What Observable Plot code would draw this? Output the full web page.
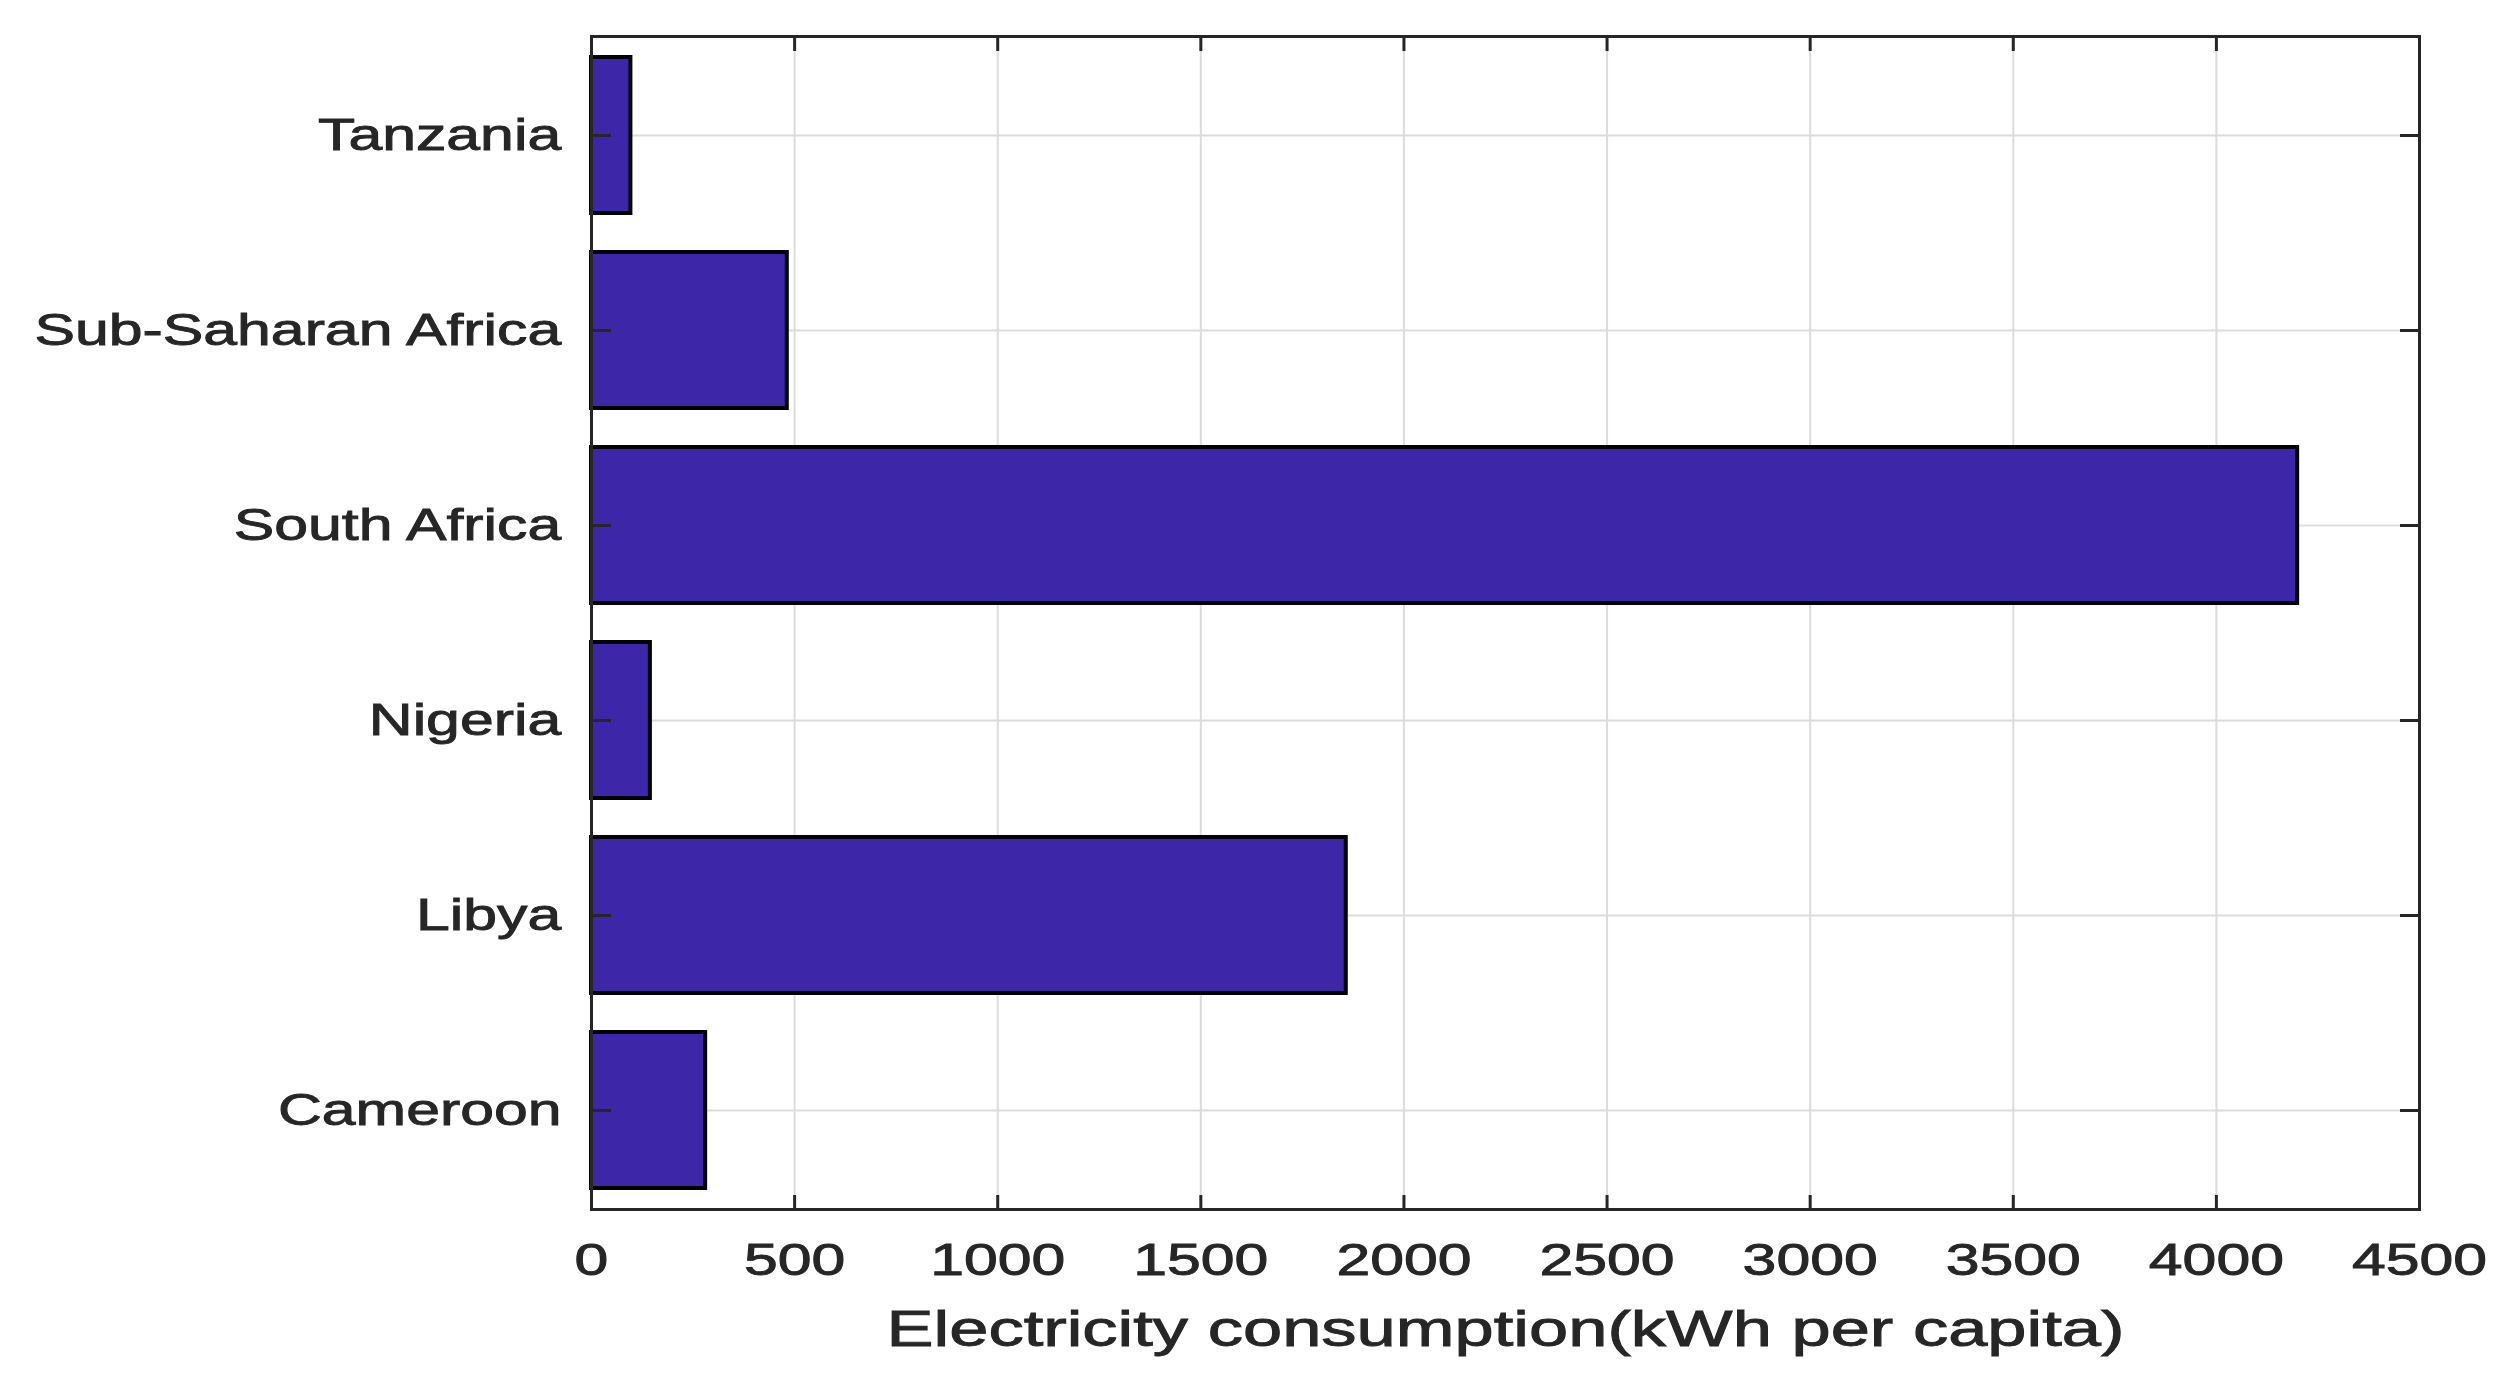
<!DOCTYPE html>
<html>
<head>
<meta charset="utf-8">
<script src="https://cdn.jsdelivr.net/npm/d3@7"></script>
<script src="https://cdn.jsdelivr.net/npm/@observablehq/plot@0.6"></script>
<style>
  html, body { margin: 0; padding: 0; background: #fff; }
  svg { display: block; }
</style>
</head>
<body>
<div id="chart"></div>
<script>
const countries = ["Tanzania", "Sub-Saharan Africa", "South Africa", "Nigeria", "Libya", "Cameroon"];
const consumption = [97, 482, 4200, 145, 1858, 281];
const xTicks = [0, 500, 1000, 1500, 2000, 2500, 3000, 3500, 4000, 4500];
const xLabel = "Electricity consumption(kWh per capita)";

const data = countries.map((c, i) => ({country: c, value: consumption[i]}));

const W = 2506, H = 1381;
const ink = "#262626";
const font = "'Liberation Sans', Arial, Helvetica, sans-serif";

const svg = Plot.plot({
  width: W,
  height: H,
  marginLeft: 591,
  marginRight: 87,
  marginTop: 36,
  marginBottom: 172,
  style: {fontFamily: font, color: ink, background: "#fff"},
  x: {domain: [0, 4500], ticks: xTicks},
  y: {type: "band", domain: countries, paddingInner: 0.2, paddingOuter: 0.1},
  marks: [
    Plot.gridX(xTicks, {stroke: "#dcdcdc", strokeOpacity: 1, strokeWidth: 2}),
    Plot.gridY(countries, {stroke: "#dcdcdc", strokeOpacity: 1, strokeWidth: 2}),
    Plot.barX(data, {x: "value", y: "country", fill: "#3e26a8", stroke: "#000", strokeWidth: 4}),
    // inward tick marks on all four sides
    Plot.axisX(xTicks, {anchor: "bottom", tickSize: -14, tickFormat: () => "", label: null, stroke: ink, strokeWidth: 3}),
    Plot.axisX(xTicks, {anchor: "top", tickSize: -14, tickFormat: () => "", label: null, stroke: ink, strokeWidth: 3}),
    Plot.axisY(countries, {anchor: "left", tickSize: -20, tickFormat: () => "", label: null, stroke: ink, strokeWidth: 3}),
    Plot.axisY(countries, {anchor: "right", tickSize: -20, tickFormat: () => "", label: null, stroke: ink, strokeWidth: 3}),
    // tick labels
    Plot.axisX(xTicks, {anchor: "bottom", tickSize: 0, tickPadding: 34, fontSize: 45, fill: ink, label: null, tickFormat: d => String(d)}),
    Plot.axisY(countries, {anchor: "left", tickSize: 0, tickPadding: 30, fontSize: 45, fill: ink, label: null}),
    Plot.frame({stroke: ink, strokeWidth: 3}),
    Plot.text([xLabel], {frameAnchor: "bottom", lineAnchor: "bottom", dy: 136, fontSize: 50, fill: ink, text: d => d})
  ]
});

document.getElementById("chart").appendChild(svg);

// the reference's lettering is horizontally stretched; reproduce it with a scaleX about each text's anchor
function stretch(el, s) {
  const bb = el.getBBox();
  const a = getComputedStyle(el).textAnchor;
  const p = a === "middle" ? bb.x + bb.width / 2 : a === "end" ? bb.x + bb.width : bb.x;
  const tr = el.getAttribute("transform") || "";
  el.setAttribute("transform", `${tr} translate(${p},0) scale(${s},1) translate(${-p},0)`);
}
svg.querySelectorAll("text").forEach(t => {
  const g = t.closest("g[aria-label]");
  const lab = g ? g.getAttribute("aria-label") : "";
  const s = lab === "text" ? 1.41 : 1.35;
  stretch(t, s);
  t.style.stroke = ink;
  t.style.strokeWidth = "0.9px";
  t.style.paintOrder = "stroke";
});
</script>
</body>
</html>
